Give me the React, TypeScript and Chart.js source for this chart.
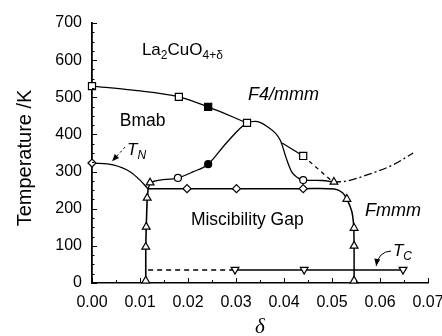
import React, { useEffect, useRef } from 'react';
import { Chart, registerables } from 'chart.js';

Chart.register(...registerables);

const SANS = '"Liberation Sans", Arial, Helvetica, sans-serif';
const SERIF = '"Liberation Serif", "Times New Roman", serif';

// ---- axes ----
const xMin = 0;
const xMax = 0.07;
const xStep = 0.01;
const yMin = 0;
const yMax = 700;
const yStep = 100;

// ---- curves (delta, T/K) ----
// Bmab -> F4/mmm boundary
const upperX = [0, 0.0085, 0.0181, 0.0242, 0.0323];
const upperT = [530, 519, 501, 474, 431];
// branch from the hump to the last square
const branchX = [0.0396, 0.044];
const branchT = [377, 342];
// dashed continuation
const upperDashX = [0.044, 0.0502];
const upperDashT = [342, 272];
// T_N curve
const tnX = [0, 0.0044, 0.008, 0.01, 0.0117];
const tnT = [323, 318, 299, 277, 253];
// hump curve (circles)
const humpX = [0.0117, 0.0121, 0.0142, 0.0179, 0.021, 0.0242, 0.028, 0.0323, 0.034, 0.0364, 0.0392, 0.0406, 0.0416, 0.0429, 0.044, 0.048, 0.0502];
const humpT = [253, 268, 277, 283, 299, 320, 377, 431, 435, 422, 385, 331, 299, 283, 277, 276, 272];
// miscibility gap: left side
const gapLeftX = [0.0112, 0.0112, 0.0113, 0.0115, 0.0117];
const gapLeftT = [0, 97, 151, 229, 253];
// miscibility gap: top and right side
const gapX = [0.0117, 0.0198, 0.0301, 0.044, 0.0505, 0.0522, 0.0531, 0.0541, 0.0545, 0.0546, 0.0546];
const gapT = [254, 254, 254, 254, 253, 243, 226, 194, 156, 100, 0];
// T_C line
const tcDashX = [0.0117, 0.0298];
const tcDashT = [35, 35];
const tcX = [0.0298, 0.0442, 0.0648];
const tcT = [35, 35, 35];
// dash-dot curve
const ddX = [0.0502, 0.0523, 0.0573, 0.0627, 0.0669];
const ddT = [272, 273, 291, 318, 350];

// ---- markers ----
const openSqX = [0, 0.0181, 0.0323, 0.044];
const openSqT = [530, 501, 431, 342];
const filledSqX = [0.0242];
const filledSqT = [474];
const openCircX = [0.0179, 0.044];
const openCircT = [283, 277];
const filledCircX = [0.0242];
const filledCircT = [320];
const diamondX = [0, 0.0198, 0.0301, 0.044];
const diamondT = [323, 254, 254, 254];
const triUpX = [0.0112, 0.0112, 0.0113, 0.0115, 0.0121, 0.0546, 0.0546, 0.0546, 0.0531, 0.0504];
const triUpT = [6, 97, 151, 229, 270, 6, 100, 148, 226, 272];
const triDownX = [0.0298, 0.0442, 0.0648];
const triDownT = [36, 36, 36];

// ---- annotations (data coordinates) ----
type Seg = { t: string; size: number; italic?: boolean; dy?: number };
const textLabels: { x: number; y: number; segs: Seg[] }[] = [
  { x: 0.0104, y: 614, segs: [
    { t: 'La', size: 17 }, { t: '2', size: 12, dy: 4 }, { t: 'CuO', size: 17 }, { t: '4+δ', size: 12, dy: 4 },
  ] },
  { x: 0.0058, y: 423, segs: [{ t: 'Bmab', size: 17.5 }] },
  { x: 0.0325, y: 493, segs: [{ t: 'F4/mmm', size: 18, italic: true }] },
  { x: 0.0073, y: 345, segs: [{ t: 'T', size: 17, italic: true }, { t: 'N', size: 12, italic: true, dy: 4 }] },
  { x: 0.0206, y: 156, segs: [{ t: 'Miscibility Gap', size: 17.5 }] },
  { x: 0.0569, y: 180, segs: [{ t: 'Fmmm', size: 18, italic: true }] },
  { x: 0.0627, y: 73, segs: [{ t: 'T', size: 17, italic: true }, { t: 'C', size: 12, italic: true, dy: 4 }] },
];
const tnArrow = { x0: 0.0069, y0: 366, x1: 0.0042, y1: 328 };
const tcArrow = { x0: 0.0623, y0: 86, cx: 0.0597, cy: 85, x1: 0.0592, y1: 46 };

const pts = (xs: number[], ys: number[]) => xs.map((x, i) => ({ x, y: ys[i] }));

const lineDs = (xs: number[], ys: number[], extra: any = {}) => ({
  data: pts(xs, ys),
  showLine: true,
  borderColor: '#000',
  borderWidth: 1.3,
  pointRadius: 0,
  pointHoverRadius: 0,
  fill: false,
  tension: 0,
  ...extra,
});

const markDs = (xs: number[], ys: number[], style: string, radius: number, fillColor: string, rotation = 0) => ({
  data: pts(xs, ys),
  showLine: false,
  pointStyle: style,
  pointRadius: radius,
  pointHoverRadius: radius,
  pointBackgroundColor: fillColor,
  pointBorderColor: '#000',
  pointBorderWidth: 1.2,
  pointRotation: rotation,
  clip: false,
});

function arrowHead(ctx: CanvasRenderingContext2D, fx: number, fy: number, tx: number, ty: number, len: number, half: number) {
  const ang = Math.atan2(ty - fy, tx - fx);
  ctx.beginPath();
  ctx.moveTo(tx, ty);
  ctx.lineTo(tx - len * Math.cos(ang) + half * Math.sin(ang), ty - len * Math.sin(ang) - half * Math.cos(ang));
  ctx.lineTo(tx - len * Math.cos(ang) - half * Math.sin(ang), ty - len * Math.sin(ang) + half * Math.cos(ang));
  ctx.closePath();
  ctx.fill();
}

const decor = {
  id: 'decor',
  afterDatasetsDraw(chart: any) {
    const { ctx, chartArea: a } = chart;
    const xs = chart.scales.x;
    const ys = chart.scales.y;
    ctx.save();
    ctx.strokeStyle = '#000';
    ctx.fillStyle = '#000';
    ctx.lineWidth = 1;
    // inward ticks
    for (let i = 0; i <= 14; i++) {
      const px = Math.round(xs.getPixelForValue(i * 0.005)) + 0.5;
      const len = i % 2 === 0 ? 5 : 3;
      ctx.beginPath();
      ctx.moveTo(px, a.bottom);
      ctx.lineTo(px, a.bottom - len);
      ctx.stroke();
    }
    for (let i = 0; i <= 28; i++) {
      const py = Math.round(ys.getPixelForValue(i * 25)) + 0.5;
      const len = i % 4 === 0 ? 5 : 2.5;
      ctx.beginPath();
      ctx.moveTo(a.left, py);
      ctx.lineTo(a.left + len, py);
      ctx.stroke();
    }
    // text labels
    ctx.textAlign = 'left';
    ctx.textBaseline = 'alphabetic';
    for (const lb of textLabels) {
      let px = xs.getPixelForValue(lb.x);
      const py = ys.getPixelForValue(lb.y);
      for (const s of lb.segs) {
        ctx.font = `${s.italic ? 'italic ' : ''}${s.size}px ${SANS}`;
        ctx.fillText(s.t, px, py + (s.dy || 0));
        px += ctx.measureText(s.t).width;
      }
    }
    // T_N arrow (dashed)
    {
      const x0 = xs.getPixelForValue(tnArrow.x0), y0 = ys.getPixelForValue(tnArrow.y0);
      const x1 = xs.getPixelForValue(tnArrow.x1), y1 = ys.getPixelForValue(tnArrow.y1);
      ctx.setLineDash([2.5, 2.5]);
      ctx.beginPath();
      ctx.moveTo(x0, y0);
      ctx.lineTo(x1, y1);
      ctx.stroke();
      ctx.setLineDash([]);
      arrowHead(ctx, x0, y0, x1, y1, 7, 3);
    }
    // T_C arrow (curved)
    {
      const x0 = xs.getPixelForValue(tcArrow.x0), y0 = ys.getPixelForValue(tcArrow.y0);
      const cx = xs.getPixelForValue(tcArrow.cx), cy = ys.getPixelForValue(tcArrow.cy);
      const x1 = xs.getPixelForValue(tcArrow.x1), y1 = ys.getPixelForValue(tcArrow.y1);
      ctx.beginPath();
      ctx.moveTo(x0, y0);
      ctx.quadraticCurveTo(cx, cy, x1, y1);
      ctx.stroke();
      arrowHead(ctx, cx, cy, x1, y1, 7, 3);
    }
    // y title
    ctx.save();
    ctx.translate(25, (a.top + a.bottom) / 2 + 5);
    ctx.rotate(-Math.PI / 2);
    ctx.textAlign = 'center';
    ctx.textBaseline = 'middle';
    ctx.font = `20px ${SANS}`;
    ctx.fillText('Temperature /K', 0, 0);
    ctx.restore();
    ctx.restore();
  },
};

export default function App() {
  const ref = useRef<HTMLCanvasElement>(null);
  useEffect(() => {
    const datasets: any[] = [
      markDs(openSqX, openSqT, 'rect', 5, '#fff'),
      markDs(filledSqX, filledSqT, 'rect', 5, '#000'),
      markDs(openCircX, openCircT, 'circle', 3.5, '#fff'),
      markDs(filledCircX, filledCircT, 'circle', 3.5, '#000'),
      markDs(diamondX, diamondT, 'rectRot', 4, '#fff'),
      markDs(triUpX, triUpT, 'triangle', 4.5, '#fff'),
      markDs(triDownX, triDownT, 'triangle', 4.5, '#fff', 180),
      lineDs(upperX, upperT, { cubicInterpolationMode: 'monotone' }),
      lineDs(branchX, branchT),
      lineDs(upperDashX, upperDashT, { borderDash: [4, 4] }),
      lineDs(tnX, tnT, { cubicInterpolationMode: 'monotone' }),
      lineDs(humpX, humpT, { cubicInterpolationMode: 'monotone' }),
      lineDs(gapLeftX, gapLeftT, { borderWidth: 1.6 }),
      lineDs(gapX, gapT, { tension: 0.3, borderWidth: 1.5 }),
      lineDs(tcDashX, tcDashT, { borderDash: [5, 4] }),
      lineDs(tcX, tcT, { borderWidth: 1.5 }),
      lineDs(ddX, ddT, { borderDash: [8, 3, 2, 3], cubicInterpolationMode: 'monotone' }),
    ];
    const chart = new Chart(ref.current as HTMLCanvasElement, {
      type: 'scatter',
      data: { datasets },
      options: {
        animation: false,
        responsive: false,
        events: [],
        layout: { padding: { top: 23, right: 14, left: 0, bottom: 0 } },
        plugins: { legend: { display: false }, tooltip: { enabled: false } },
        scales: {
          x: {
            type: 'linear',
            min: xMin,
            max: xMax,
            afterFit: (s: any) => { s.height = 53; s.paddingLeft = 0; s.paddingRight = 0; },
            ticks: {
              stepSize: xStep,
              padding: 10,
              color: '#000',
              font: { family: SANS, size: 16 },
              maxRotation: 0,
              autoSkip: false,
              callback: (v: any) => Number(v).toFixed(2),
            },
            grid: { drawOnChartArea: false, drawTicks: false },
            border: { display: true, color: '#000', width: 1.5 },
            title: {
              display: true,
              text: 'δ',
              color: '#000',
              font: { family: SERIF, size: 21, style: 'italic', lineHeight: 0.8 },
              padding: { top: 0, bottom: 0 },
            },
          },
          y: {
            type: 'linear',
            min: yMin,
            max: yMax,
            afterFit: (s: any) => { s.width = 92; s.paddingTop = 0; s.paddingBottom = 0; },
            ticks: {
              stepSize: yStep,
              padding: 10,
              color: '#000',
              font: { family: SANS, size: 16 },
              autoSkip: false,
            },
            grid: { drawOnChartArea: false, drawTicks: false },
            border: { display: true, color: '#000', width: 1.8 },
          },
        },
      },
      plugins: [decor],
    } as any);
    return () => chart.destroy();
  }, []);
  return (
    <div style={{ position: 'absolute', left: 0, top: 0, width: 442, height: 336, background: '#fff' }}>
      <canvas ref={ref} width={442} height={336} style={{ display: 'block', width: 442, height: 336 }} />
    </div>
  );
}
